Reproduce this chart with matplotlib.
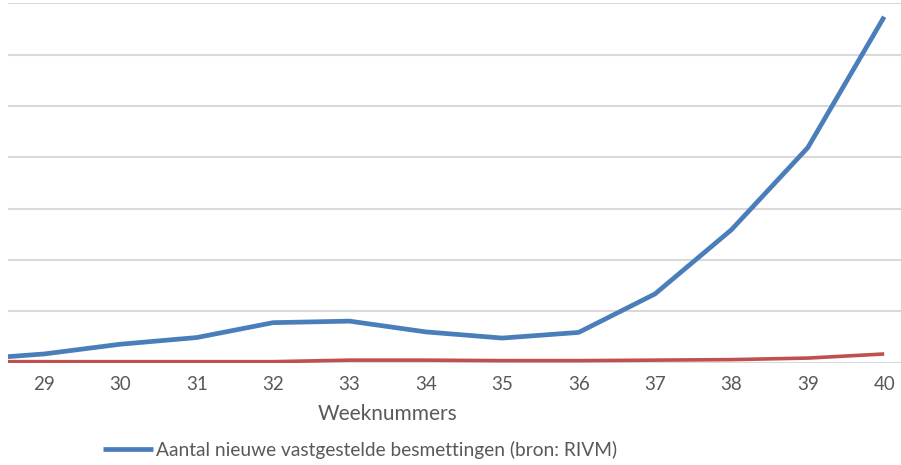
import matplotlib
matplotlib.use("Agg")
import matplotlib.pyplot as plt

weeks = [28, 29, 30, 31, 32, 33, 34, 35, 36, 37, 38, 39, 40]
# values in gridline units (chart has no y labels)
besmettingen = [0.06, 0.17, 0.36, 0.49, 0.78, 0.81, 0.60, 0.48, 0.59, 1.34, 2.59, 4.19, 6.74]
rood = [0.02, 0.02, 0.02, 0.02, 0.02, 0.05, 0.05, 0.04, 0.04, 0.05, 0.06, 0.09, 0.17]
tick_weeks = list(range(29, 41))
legend_label = "Aantal nieuwe vastgestelde besmettingen (bron: RIVM)"

plt.rcParams['font.family'] = ['Lato', 'DejaVu Sans']
grey = "#595959"

fig = plt.figure(figsize=(9.01, 4.65), dpi=100)
ax = fig.add_axes([8/901, 0.22, 1 - 8/901, 0.7727])

ax.set_xlim(28.53, 40.22)
ax.set_ylim(0, 7)
ax.set_yticks(range(0, 8))
ax.yaxis.grid(True, color="#d9d9d9", linewidth=1.5)
ax.set_axisbelow(True)
for s in ax.spines.values():
    s.set_visible(False)
ax.tick_params(axis="y", left=False, labelleft=False)
ax.tick_params(axis="x", bottom=False, labelsize=13.5, labelcolor=grey, pad=6)
ax.set_xticks(tick_weeks)
ax.set_xticklabels([str(w) for w in tick_weeks])

ax.plot(weeks, rood, color="#c0504d", linewidth=2.6, solid_capstyle="butt", zorder=3)
ax.plot(weeks, besmettingen, color="#4a7ebb", linewidth=3.4,
        solid_joinstyle="round", solid_capstyle="butt", zorder=4,
        label=legend_label)

ax.set_xlabel("Weeknummers", fontsize=15, color=grey)
ax.xaxis.set_label_coords((388 - 8) / 893, -0.115)

leg = fig.legend(loc="center left", bbox_to_anchor=(103/901, 1 - 450/465), frameon=False,
                 fontsize=13.8, handlelength=2.6, handletextpad=0.15, borderpad=0,
                 borderaxespad=0)
for t in leg.get_texts():
    t.set_color(grey)

fig.savefig("out.png", dpi=100, facecolor="white")
